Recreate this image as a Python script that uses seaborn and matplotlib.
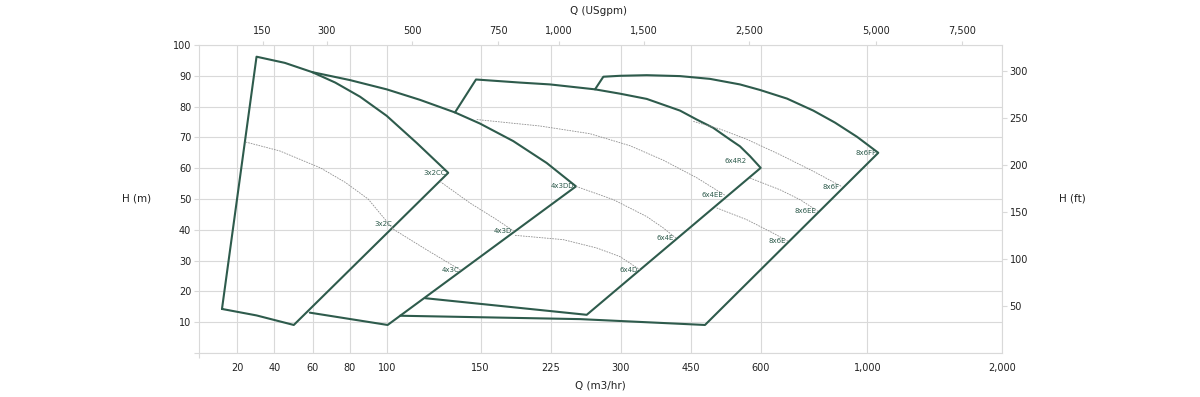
import numpy as np
import matplotlib
matplotlib.use("Agg")
import matplotlib.pyplot as plt
import seaborn as sns

# ---------------- data (Q in m3/hr, H in m) ----------------
# pump envelopes (solid)
q_3x2 = [12.0, 30.4, 45.5, 59.8, 72.3, 85.7, 100.0, 116.0, 132.8, 50.2, 30.4, 12.0]
h_3x2 = [14.3, 96.2, 94.2, 91.2, 87.8, 83.2, 77.0, 68.2, 58.5, 9.1, 12.2, 14.3]

q_4x3 = [58.6, 100.5, 252.1, 220.7, 185.0, 149.7, 136.4, 117.7, 100.0, 80.3, 59.8]
h_4x3 = [13.1, 9.1, 54.1, 61.7, 68.8, 74.5, 78.1, 82.2, 85.6, 88.6, 91.2]

q_6x4 = [136.4, 147.6, 192.2, 224.3, 272.5, 299.2, 355.7, 427.1, 462.9, 498.4, 534.2,
         555.6, 577.1, 600.0, 263.6, 120.4]
h_6x4 = [78.1, 88.8, 87.8, 87.2, 85.6, 84.2, 82.5, 78.7, 75.8, 73.1, 69.3,
         67.1, 63.9, 60.1, 12.4, 17.8]

q_8x6 = [272.5, 281.4, 299.2, 355.7, 427.1, 491.4, 555.6, 598.5, 698.7, 797.4, 878.8,
         961.3, 1081.8, 480.6, 256.4, 107.1]
h_8x6 = [85.6, 89.7, 90.0, 90.2, 89.9, 89.0, 87.2, 85.4, 82.6, 78.7, 74.8,
         70.2, 65.0, 9.1, 11.0, 12.1]

# impeller trim curves (dotted)
q_3x2c = [24.5, 42.9, 64.3, 77.7, 90.0, 103.5]
h_3x2c = [68.5, 65.6, 60.1, 55.4, 50.0, 40.2]
q_4x3c = [103.5, 121.3, 139.7]
h_4x3c = [40.2, 33.5, 26.8]
q_4x3d = [128.4, 144.4, 167.3, 185.8]
h_4x3d = [55.7, 48.7, 43.3, 39.5]
q_6x4d = [186.9, 238.5, 274.3, 299.2, 341.5]
h_6x4d = [38.2, 36.8, 34.1, 31.3, 27.0]
q_6x4e = [252.1, 292.1, 355.7, 391.3, 418.5]
h_6x4e = [54.1, 49.8, 44.3, 40.6, 37.3]
q_6x4ee = [148.0, 213.6, 267.1, 319.9, 391.3, 462.9, 523.5]
h_6x4ee = [75.8, 73.7, 71.2, 67.3, 62.6, 56.9, 51.2]
q_8x6e = [505.7, 570.0, 647.3, 702.4]
h_8x6e = [47.1, 43.3, 38.9, 36.3]
q_8x6ee = [577.1, 672.4, 747.5, 815.0]
h_8x6ee = [56.8, 53.0, 49.8, 46.0]
q_8x6f = [455.6, 512.8, 570.0, 672.4, 797.4, 905.1]
h_8x6f = [75.2, 72.7, 69.4, 64.4, 59.0, 54.0]

# curve labels: name, Q, H
label_names = ["3x2CC", "4x3DD", "3x2C", "4x3C", "4x3D", "6x4D", "6x4E",
               "6x4EE", "6x4R2", "8x6E", "8x6EE", "8x6F", "8x6FF"]
label_q = [132.8, 252.1, 103.5, 139.7, 185.8, 341.5, 418.5, 523.5, 600.0, 702.4, 815.0, 905.1, 1081.8]
label_h = [58.5, 54.1, 40.2, 26.8, 39.5, 27.0, 37.3, 51.2, 60.1, 36.3, 46.0, 54.0, 65.0]

# axis ticks
q_ticks = [20, 40, 60, 80, 100, 150, 225, 300, 450, 600, 1000, 2000]
gpm_ticks = [150, 300, 500, 750, 1000, 1500, 2500, 5000, 7500]
h_ticks = [0, 10, 20, 30, 40, 50, 60, 70, 80, 90, 100]
ft_ticks = [50, 100, 150, 200, 250, 300]

# ---------------- scale anchors (layout) ----------------
XV = [0, 20, 40, 60, 80, 100, 150, 225, 300, 450, 600, 1000, 2000]
XPX = [199, 237.3, 274.3, 312.5, 349.5, 386.7, 480.5, 550.7, 620.7, 690.7, 760.7, 867.3, 1001.7]
TV = [0, 150, 300, 500, 750, 1000, 1500, 2500, 5000, 7500, 8806]
TPX = [199, 262.7, 327, 412.3, 498.3, 559, 644, 748.7, 876.3, 961.7, 1001.7]
L, R = 199.0, 1001.7
XF = [(p - L) / (R - L) for p in XPX]
TF = [(p - L) / (R - L) for p in TPX]


def fwd(v):
    return np.interp(v, XV, XF)


def inv(f):
    return np.interp(f, XF, XV)


def tfwd(v):
    return np.interp(v, TV, TF)


def tinv(f):
    return np.interp(f, TF, TV)


sns.set_theme(style="white")
plt.rcParams["font.family"] = ["DejaVu Sans"]

LINE = "#2e5b4c"
GRID = "#d9d9d9"
TXT = "#222222"
DOT = "#909090"

fig = plt.figure(figsize=(12, 3.97), dpi=100)
ax = fig.add_axes([L / 1200, 1 - 353 / 397, (R - L) / 1200, (353 - 45) / 397])
ax.set_xscale("function", functions=(fwd, inv))
ax.set_xlim(0, 2000)
ax.set_ylim(0, 100)

for sp in ax.spines.values():
    sp.set_color(GRID)
    sp.set_linewidth(0.8)

ax.set_xticks(q_ticks)
ax.set_xticklabels([f"{t:,}" for t in q_ticks])
ax.set_xticks([0], minor=True)
ax.tick_params(axis="x", which="major", length=0, pad=7, labelsize=7, labelcolor=TXT)
ax.tick_params(axis="x", which="minor", length=3.6, width=0.8, color=GRID, bottom=True)
ax.set_yticks(h_ticks)
ax.set_yticklabels([str(t) if t else "" for t in h_ticks])
ax.tick_params(axis="y", length=3.6, width=0.8, color=GRID, pad=2, labelsize=7,
               labelcolor=TXT, left=True)
ax.grid(True, color=GRID, linewidth=0.8)
ax.set_axisbelow(True)

# envelopes
for q, h in [(q_3x2, h_3x2), (q_4x3, h_4x3), (q_6x4, h_6x4), (q_8x6, h_8x6)]:
    sns.lineplot(x=q, y=h, sort=False, estimator=None, color=LINE, linewidth=1.5, ax=ax)

# trims
for q, h in [(q_3x2c, h_3x2c), (q_4x3c, h_4x3c), (q_4x3d, h_4x3d), (q_6x4d, h_6x4d),
             (q_6x4e, h_6x4e), (q_6x4ee, h_6x4ee), (q_8x6e, h_8x6e), (q_8x6ee, h_8x6ee),
             (q_8x6f, h_8x6f)]:
    sns.lineplot(x=q, y=h, sort=False, estimator=None, color=DOT, linewidth=0.6,
                 linestyle=(0, (2, 1.2)), ax=ax)

offsets = {"3x2C": (-1, 3.5), "6x4R2": (-10, 5)}
for name, q, h in zip(label_names, label_q, label_h):
    dx, dy = offsets.get(name, (-1.5, 0))
    ax.annotate(name, (q, h), xytext=(dx, dy), textcoords="offset points",
                ha="right", va="center", fontsize=5, color=LINE)

# top axis (US gpm)
ax2 = ax.twiny()
ax2.set_xscale("function", functions=(tfwd, tinv))
ax2.set_xlim(0, 8806)
ax2.set_xticks(gpm_ticks)
ax2.set_xticklabels([f"{t:,}" for t in gpm_ticks])
ax2.tick_params(axis="x", length=3.2, width=0.8, color=GRID, pad=3, labelsize=7, labelcolor=TXT)
for sp in ax2.spines.values():
    sp.set_visible(False)
ax2.grid(False)

# right axis (ft)
secy = ax.secondary_yaxis("right", functions=(lambda m: m * 3.28084, lambda f: f / 3.28084))
secy.set_yticks(ft_ticks)
secy.tick_params(axis="y", length=3.6, width=0.8, color=GRID, pad=2, labelsize=7, labelcolor=TXT)
secy.spines["right"].set_visible(False)

fig.text(598 / 1200, 1 - 11 / 397, "Q (USgpm)", ha="center", va="center", fontsize=7.5, color=TXT)
fig.text(600 / 1200, 1 - 386 / 397, "Q (m3/hr)", ha="center", va="center", fontsize=7.5, color=TXT)
fig.text(137 / 1200, 1 - 198 / 397, "H (m)", ha="center", va="center", fontsize=7.5, color=TXT)
fig.text(1072 / 1200, 1 - 198 / 397, "H (ft)", ha="center", va="center", fontsize=7.5, color=TXT)

fig.savefig("out.png", dpi=100, facecolor="white")
